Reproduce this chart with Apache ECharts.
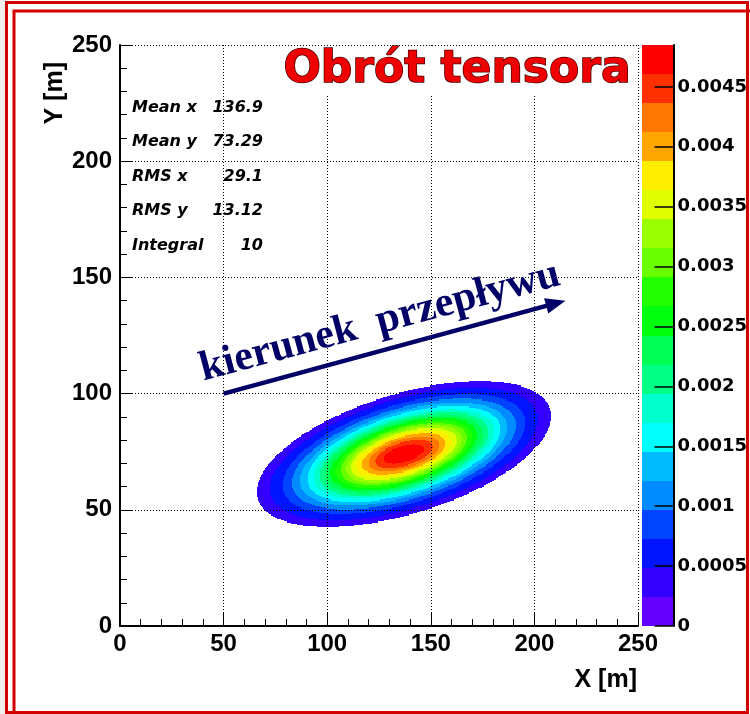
<!DOCTYPE html>
<html>
<head>
<meta charset="utf-8">
<script src="https://cdn.jsdelivr.net/npm/echarts@6/dist/echarts.min.js"></script>
<style>
  html, body { margin: 0; padding: 0; background: #ffffff; }
  #chart { width: 750px; height: 714px; }
</style>
</head>
<body>
<div id="chart"></div>
<script>
// ---- frame axes (metres) ----
const axisMin = 0;
const axisMax = 250;
const axisStep = 50;

// ---- statistics panel ----
const statNames = ['Mean x', 'Mean y', 'RMS x', 'RMS y', 'Integral'];
const statValues = ['136.9', '73.29', '29.1', '13.12', '10'];

// ---- concentration plume (rotated Gaussian, 0.5 m bins) ----
const plumeCenter = [137, 74];       // m
const plumeSpread = [30.1, 13.3];    // sigma along x and y, m
const plumeCorrelation = 0.52;       // x-y correlation (tilt of the plume)
const plumePeak = 0.00485;           // peak bin content
const plumeCutoff = 0.0003;          // bins below this are left empty
const binSize = 0.5;

// ---- contour palette: 20 levels between 0 and zMax ----
const zMax = 0.00485;
const paletteColors = [
  '#6300ff', '#3300ff', '#0014ff', '#0044ff', '#008bff',
  '#00bbff', '#00fffc', '#00ffcc', '#00ff85', '#00ff55',
  '#00ff0e', '#22ff00', '#69ff00', '#99ff00', '#e0ff00',
  '#ffee00', '#ffa700', '#ff7700', '#ff3000', '#ff0000'
];
const paletteTickValues = [0, 0.0005, 0.001, 0.0015, 0.002, 0.0025, 0.003, 0.0035, 0.004, 0.0045];

// ---- flow direction arrow (data coordinates) ----
const arrowStart = [50, 100];
const arrowEnd = [215, 140];
const arrowText = 'kierunek  przepływu';

const titleText = 'Obrót tensora';
const xTitle = 'X [m]';
const yTitle = 'Y [m]';

// ---------------------------------------------------------------
const levelWidth = zMax / paletteColors.length;

function binContent(x, y) {
  const dx = (x - plumeCenter[0]) / plumeSpread[0];
  const dy = (y - plumeCenter[1]) / plumeSpread[1];
  const r = plumeCorrelation;
  const q = (dx * dx - 2 * r * dx * dy + dy * dy) / (1 - r * r);
  return plumePeak * Math.exp(-q / 2);
}

function levelIndex(v) {
  return Math.max(0, Math.min(paletteColors.length - 1, Math.floor(v / levelWidth)));
}

// filled bins of the 2D histogram
const cells = [];
const nBins = Math.round((axisMax - axisMin) / binSize);
for (let i = 0; i < nBins; i++) {
  for (let j = 0; j < nBins; j++) {
    const x = axisMin + i * binSize, y = axisMin + j * binSize;
    const v = binContent(x + binSize / 2, y + binSize / 2);
    if (v >= plumeCutoff) cells.push([x, y, v]);
  }
}

// palette boxes
const paletteBands = paletteColors.map((c, k) => [k * levelWidth, (k + 1) * levelWidth, k]);

const sansBold = '"Liberation Sans", Arial, sans-serif';
const dejavu = '"DejaVu Sans", sans-serif';

const chart = echarts.init(document.getElementById('chart'), null, { renderer: 'canvas' });

const statGraphics = [];
statNames.forEach((name, k) => {
  const y = 107.5 + k * 34.5;
  statGraphics.push({
    type: 'text', x: 132, y: y, z: 20,
    style: { text: name, fill: '#000', font: 'italic bold 16px ' + dejavu, textAlign: 'left', textVerticalAlign: 'middle' }
  });
  statGraphics.push({
    type: 'text', x: 263, y: y, z: 20,
    style: { text: statValues[k], fill: '#000', font: 'italic bold 16px ' + dejavu, textAlign: 'right', textVerticalAlign: 'middle' }
  });
});

const option = {
  animation: false,
  backgroundColor: '#ffffff',
  grid: [
    { left: 120, top: 45, width: 518, height: 581 },
    { left: 642, top: 45, width: 33, height: 581 }
  ],
  xAxis: [
    {
      gridIndex: 0, type: 'value', min: axisMin, max: axisMax, interval: axisStep, z: 5,
      axisLine: { show: true, onZero: false, lineStyle: { color: '#000', width: 2 } },
      axisTick: { show: true, inside: true, length: 14, lineStyle: { color: '#000', width: 1 } },
      minorTick: { show: true, splitNumber: 5, length: 7, lineStyle: { color: '#000', width: 1 } },
      axisLabel: { color: '#000', fontFamily: sansBold, fontWeight: 'bold', fontSize: 24, margin: 6 },
      splitLine: { show: true, lineStyle: { color: '#000', width: 1, type: [1, 2] } }
    },
    {
      gridIndex: 1, type: 'value', min: 0, max: 1, show: false
    }
  ],
  yAxis: [
    {
      gridIndex: 0, type: 'value', min: axisMin, max: axisMax, interval: axisStep, z: 5,
      axisLine: { show: true, onZero: false, lineStyle: { color: '#000', width: 2 } },
      axisTick: { show: true, inside: true, length: 13, lineStyle: { color: '#000', width: 1 } },
      minorTick: { show: true, splitNumber: 5, length: 7, lineStyle: { color: '#000', width: 1 } },
      axisLabel: { color: '#000', fontFamily: sansBold, fontWeight: 'bold', fontSize: 24, margin: 8 },
      splitLine: { show: true, lineStyle: { color: '#000', width: 1, type: [1, 2] } }
    },
    {
      gridIndex: 1, type: 'value', position: 'right', min: 0, max: zMax, z: 5,
      axisLine: { show: true, onZero: false, lineStyle: { color: '#000', width: 2 } },
      axisTick: { show: true, inside: true, length: 19, customValues: paletteTickValues, lineStyle: { color: '#000', width: 1.5 } },
      axisLabel: {
        customValues: paletteTickValues, color: '#000', fontFamily: dejavu, fontWeight: 'bold', fontSize: 18, margin: 4,
        formatter: v => String(v)
      },
      splitLine: { show: false }
    }
  ],
  series: [
    {
      // 2D histogram, drawn as contour-coloured bins
      type: 'custom', xAxisIndex: 0, yAxisIndex: 0, z: 2, progressive: 0, silent: true,
      data: cells,
      renderItem: function (params, api) {
        const x = api.value(0), y = api.value(1), v = api.value(2);
        const p0 = api.coord([x, y + binSize]);
        const p1 = api.coord([x + binSize, y]);
        const x0 = Math.round(p0[0]), y0 = Math.round(p0[1]);
        const x1 = Math.round(p1[0]), y1 = Math.round(p1[1]);
        return {
          type: 'rect',
          shape: { x: x0, y: y0, width: x1 - x0, height: y1 - y0 },
          style: { fill: paletteColors[levelIndex(v)] }
        };
      }
    },
    {
      // colour palette
      type: 'custom', xAxisIndex: 1, yAxisIndex: 1, z: 2, silent: true,
      data: paletteBands,
      renderItem: function (params, api) {
        const lo = api.value(0), hi = api.value(1), k = api.value(2);
        const p0 = api.coord([0, hi]);
        const p1 = api.coord([1, lo]);
        const x0 = Math.round(p0[0]), y0 = Math.round(p0[1]);
        const x1 = Math.round(p1[0]), y1 = Math.round(p1[1]);
        return {
          type: 'rect',
          shape: { x: x0, y: y0, width: x1 - x0, height: y1 - y0 },
          style: { fill: paletteColors[k] }
        };
      }
    },
    {
      // flow direction arrow
      type: 'custom', xAxisIndex: 0, yAxisIndex: 0, z: 20, silent: true, clip: false,
      data: [[arrowStart[0], arrowStart[1], arrowEnd[0], arrowEnd[1]]],
      renderItem: function (params, api) {
        const a = api.coord([api.value(0), api.value(1)]);
        const b = api.coord([api.value(2), api.value(3)]);
        const dx = b[0] - a[0], dy = b[1] - a[1];
        const len = Math.sqrt(dx * dx + dy * dy);
        const ux = dx / len, uy = dy / len;
        const headLen = 20, headHalf = 8;
        const base = [b[0] - ux * headLen, b[1] - uy * headLen];
        const navy = '#000066';
        return {
          type: 'group',
          children: [
            {
              type: 'line',
              shape: { x1: a[0], y1: a[1], x2: base[0] + ux * 2, y2: base[1] + uy * 2 },
              style: { stroke: navy, lineWidth: 4.5 }
            },
            {
              type: 'polygon',
              shape: { points: [
                [b[0], b[1]],
                [base[0] - uy * headHalf, base[1] + ux * headHalf],
                [base[0] + uy * headHalf, base[1] - ux * headHalf]
              ] },
              style: { fill: navy }
            }
          ]
        };
      }
    }
  ],
  graphic: [
    // canvas edge and red frames
    { type: 'rect', z: 0, silent: true, shape: { x: 0, y: 0, width: 5, height: 714 }, style: { fill: '#eeeeee' } },
    { type: 'rect', z: 30, silent: true, shape: { x: 6.5, y: 2.5, width: 741, height: 710 }, style: { fill: null, stroke: '#d40000', lineWidth: 3 } },
    { type: 'polyline', z: 30, silent: true, shape: { points: [[14, 714], [14, 11], [750, 11]] }, style: { fill: null, stroke: '#d40000', lineWidth: 3 } },
    // title box
    { type: 'rect', z: 15, silent: true, shape: { x: 278, y: 47, width: 358, height: 49 }, style: { fill: '#ffffff' } },
    {
      type: 'text', z: 16, silent: true, x: 457, y: 71,
      style: {
        text: titleText, font: 'bold 44px ' + dejavu, fill: '#ee0000',
        stroke: '#4a0000', lineWidth: 1.5,
        shadowColor: '#3a0000', shadowOffsetX: 2, shadowOffsetY: 2, shadowBlur: 0,
        textAlign: 'center', textVerticalAlign: 'middle'
      }
    },
    // axis titles
    {
      type: 'text', z: 20, silent: true, x: 637, y: 680,
      style: { text: xTitle, font: 'bold 25px ' + sansBold, fill: '#000', textAlign: 'right', textVerticalAlign: 'middle' }
    },
    {
      type: 'text', z: 20, silent: true, x: 55, y: 62, rotation: Math.PI / 2,
      style: { text: yTitle, font: 'bold 25px ' + sansBold, fill: '#000', textAlign: 'right', textVerticalAlign: 'middle' }
    },
    // arrow caption
    {
      type: 'text', z: 20, silent: true, x: 380, y: 322, rotation: 15 * Math.PI / 180,
      style: { text: arrowText, font: 'bold 42px "Liberation Serif", "Times New Roman", serif', fill: '#000066', textAlign: 'center', textVerticalAlign: 'middle' }
    }
  ].concat(statGraphics)
};

chart.setOption(option);
</script>
</body>
</html>
